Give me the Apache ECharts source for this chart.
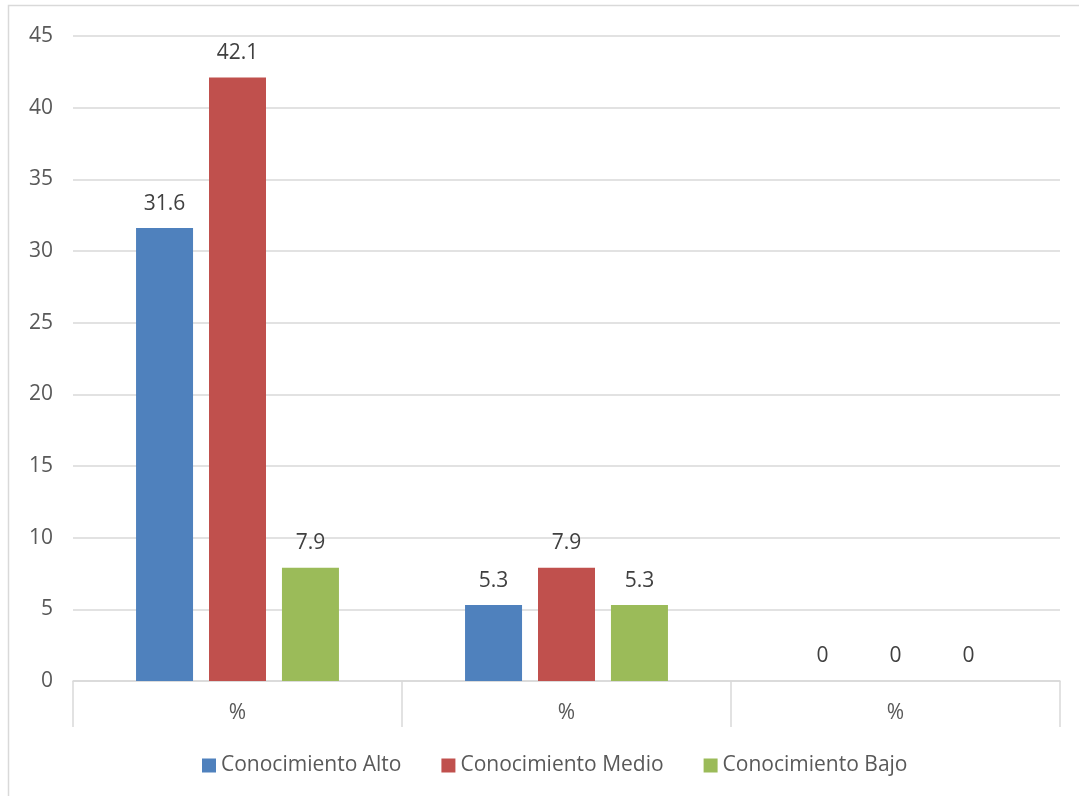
<!DOCTYPE html>
<html>
<head>
<meta charset="utf-8">
<script src="https://cdn.jsdelivr.net/npm/echarts@6/dist/echarts.min.js"></script>
<style>
html,body{margin:0;padding:0;background:#fff;}
#c{width:1079px;height:796px;}
</style>
</head>
<body>
<div id="c"></div>
<script>
const categories = ['%', '%', '%'];
const seriesNames = ['Conocimiento Alto', 'Conocimiento Medio', 'Conocimiento Bajo'];
const alto = [31.6, 5.3, 0];
const medio = [42.1, 7.9, 0];
const bajo = [7.9, 5.3, 0];
const colors = ['#4f81bd', '#c0504d', '#9bbb59'];
const yTicks = { min: 0, max: 45, interval: 5 };

const font = '"Open Sans", "Noto Sans", sans-serif';
const FS = 21;
const chart = echarts.init(document.getElementById('c'));
const mk = (name, data, i) => ({
  name, type: 'bar', data,
  barWidth: 57, barGap: '28%',
  itemStyle: { color: colors[i] },
  label: { show: true, position: 'top', distance: 14, color: '#404040', fontSize: FS, fontFamily: font },
  animation: false
});
chart.setOption({
  animation: false,
  graphic: [{
    type: 'rect', shape: { x: 8.5, y: 5.5, width: 1200, height: 1000 },
    style: { fill: 'none', stroke: '#d9d9d9', lineWidth: 1.5 }, silent: true, z: -1
  }],
  grid: { left: 73, right: 19, top: 36, bottom: 115, containLabel: false },
  legend: {
    top: 750, left: 197, itemWidth: 14, itemHeight: 14, itemGap: 40,
    icon: 'rect',
    textStyle: { color: '#595959', fontSize: FS, fontFamily: font, padding: [0, 0, 0, 0] },
    data: seriesNames
  },
  xAxis: {
    type: 'category', data: categories,
    axisLine: { lineStyle: { color: '#d9d9d9', width: 1.5 } },
    axisTick: { show: true, length: 46, interval: 0, lineStyle: { color: '#d9d9d9', width: 1.5 } },
    axisLabel: { color: '#595959', fontSize: FS, fontFamily: font, margin: 22, interval: 0 }
  },
  yAxis: {
    type: 'value', min: yTicks.min, max: yTicks.max, interval: yTicks.interval,
    axisLine: { show: false }, axisTick: { show: false },
    axisLabel: { color: '#595959', fontSize: FS, fontFamily: font, margin: 20 },
    splitLine: { lineStyle: { color: '#d9d9d9', width: 1.5 } }
  },
  series: [mk(seriesNames[0], alto, 0), mk(seriesNames[1], medio, 1), mk(seriesNames[2], bajo, 2)]
});
</script>
</body>
</html>
